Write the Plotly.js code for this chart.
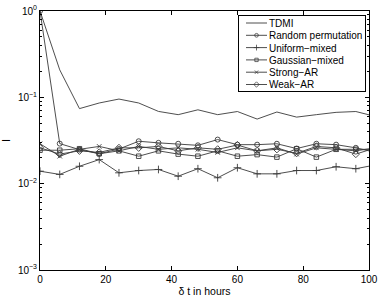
<!DOCTYPE html>
<html>
<head>
<meta charset="utf-8">
<script src="https://cdn.plot.ly/plotly-3.0.1.min.js"></script>
<style>html,body{margin:0;padding:0;background:#fff;}#chart{width:381px;height:300px;}</style>
</head>
<body>
<div id="chart"></div>
<script>
const hours = [0, 6, 12, 18, 24, 30, 36, 42, 48, 54, 60, 66, 72, 78, 84, 90, 96, 102];
const tdmi = [1.0, 0.208, 0.074, 0.086, 0.0955, 0.086, 0.0687, 0.063, 0.0717, 0.063, 0.0685, 0.056, 0.0676, 0.059, 0.063, 0.067, 0.0685, 0.06];
const randomPerm = [1.0, 0.0291, 0.0248, 0.0222, 0.0252, 0.031, 0.0297, 0.029, 0.0278, 0.0324, 0.0283, 0.0283, 0.029, 0.0255, 0.029, 0.0283, 0.026, 0.023];
const uniformMixed = [0.01395, 0.0128, 0.0159, 0.019, 0.01336, 0.0142, 0.0146, 0.0122, 0.0149, 0.0117, 0.0153, 0.013, 0.013, 0.0142, 0.0142, 0.0157, 0.0149, 0.0165];
const gaussianMixed = [0.0244, 0.0244, 0.0254, 0.0222, 0.024, 0.0208, 0.024, 0.022, 0.0208, 0.024, 0.0208, 0.0217, 0.0203, 0.0254, 0.0203, 0.025, 0.025, 0.025];
const strongAR = [0.029, 0.0208, 0.025, 0.027, 0.024, 0.027, 0.025, 0.026, 0.025, 0.023, 0.026, 0.024, 0.026, 0.022, 0.026, 0.025, 0.024, 0.026];
const weakAR = [0.026, 0.022, 0.024, 0.023, 0.026, 0.026, 0.027, 0.024, 0.026, 0.025, 0.028, 0.024, 0.025, 0.0225, 0.027, 0.026, 0.022, 0.026];

const seriesNames = ['TDMI', 'Random permutation', 'Uniform\u2212mixed', 'Gaussian\u2212mixed', 'Strong\u2212AR', 'Weak\u2212AR'];
const seriesData = [tdmi, randomPerm, uniformMixed, gaussianMixed, strongAR, weakAR];
const symbols = [null, 'circle-open', 'cross-thin-open', 'square-open', 'x-thin-open', 'diamond-open'];
const sizes = [0, 5, 5.5, 4.5, 4.5, 5.5];

const lineColor = '#3a3a3a';
const traces = seriesData.map((ys, i) => {
  const t = {
    x: hours, y: ys, name: seriesNames[i], type: 'scatter',
    mode: symbols[i] ? 'lines+markers' : 'lines',
    line: {color: lineColor, width: 0.9}
  };
  if (symbols[i]) {
    t.marker = {symbol: symbols[i], size: sizes[i], color: lineColor, line: {color: lineColor, width: 0.9}};
  }
  return t;
});

const yTickVals = [0.001, 0.01, 0.1, 1];
const yTickText = ['10<sup>\u22123</sup>', '10<sup>\u22122</sup>', '10<sup>\u22121</sup>', '10<sup>0</sup>'];

const layout = {
  width: 381, height: 300,
  margin: {l: 40, r: 12, t: 11, b: 30},
  paper_bgcolor: '#fff', plot_bgcolor: '#fff',
  font: {family: 'Liberation Sans, Arial, sans-serif', size: 10, color: '#000'},
  showlegend: true,
  legend: {
    x: 0.988, y: 0.985, xanchor: 'right', yanchor: 'top',
    bgcolor: '#fff', bordercolor: '#000', borderwidth: 1,
    font: {size: 10}, itemwidth: 30, tracegroupgap: 0
  },
  xaxis: {
    range: [0, 100], tickvals: [0, 20, 40, 60, 80, 100],
    ticks: 'inside', ticklen: 4, tickcolor: '#000', mirror: 'allticks',
    showline: true, linecolor: '#000', linewidth: 1, showgrid: false, zeroline: false,
    title: {text: '\u03b4 t in hours', font: {size: 10.5}, standoff: 3},
    tickfont: {size: 10}
  },
  yaxis: {
    type: 'log', range: [-3, 0], tickvals: yTickVals, ticktext: yTickText,
    ticks: 'inside', ticklen: 4, tickcolor: '#000', mirror: 'allticks',
    showline: true, linecolor: '#000', linewidth: 1, showgrid: false, zeroline: false,
    minor: {dtick: 'D1', ticks: 'inside', ticklen: 2, tickcolor: '#000', showgrid: false},
    title: {text: 'I', font: {size: 11}, standoff: 10},
    tickfont: {size: 10}
  }
};

Plotly.newPlot('chart', traces, layout, {staticPlot: true, displayModeBar: false}).then(gd => {
  // compact the legend to MATLAB-like spacing
  const leg = gd.querySelector('.legend');
  if (!leg) return;
  const items = leg.querySelectorAll('.traces');
  const spacing = 12.3;
  const top = 8;
  items.forEach((it, i) => {
    it.setAttribute('transform', 'translate(0,' + (top + i * spacing) + ')');
    it.querySelectorAll('.legendlines path').forEach(p => p.setAttribute('d', 'M8,0h21'));
    it.querySelectorAll('.scatterpts').forEach(p => {
      p.setAttribute('transform', 'translate(18.5,0) scale(0.75)');
      p.style.fill = 'none';
      p.style.strokeWidth = '1px';
    });
    const tx = it.querySelector('.legendtext');
    if (tx) tx.setAttribute('x', 31);
  });
  const bg = leg.querySelector('.bg');
  if (bg) { bg.setAttribute('width', 127); bg.setAttribute('height', 76); bg.setAttribute('x', 0.5); bg.setAttribute('y', 0.5); }
  leg.setAttribute('transform', 'translate(238,15)');
});
</script>
</body>
</html>
